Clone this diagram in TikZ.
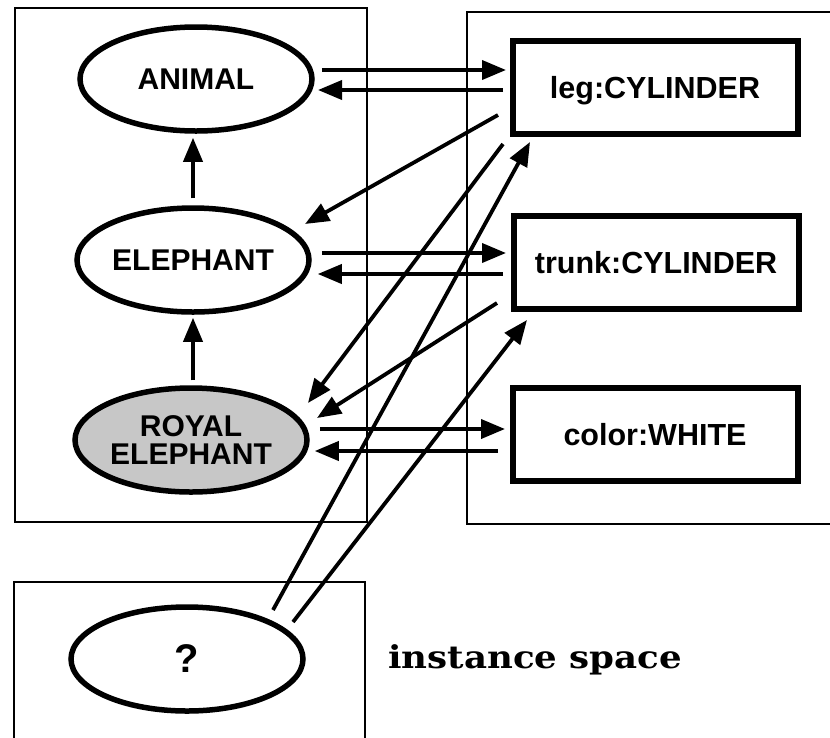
\documentclass[tikz,border=0pt]{standalone}
\usepackage{fontspec}
\usetikzlibrary{arrows.meta,shapes.geometric,calc}
\newfontfamily\labelfont{Liberation Sans}
\newfontfamily\captionfont{DejaVu Serif}

\begin{document}
\begin{tikzpicture}[x=1pt,y=-1pt,
  frame/.style={draw, line width=1.8pt},
  concept/.style={ellipse, draw, line width=5.5pt, minimum width=232pt,
    minimum height=104pt, inner sep=0pt, align=center,
    font=\labelfont\bfseries\fontsize{30}{28}\selectfont},
  slot/.style={rectangle, draw, line width=6pt, minimum width=285pt,
    minimum height=93pt, inner sep=0pt, text depth=0pt,
    font=\labelfont\bfseries\fontsize{30.5}{30}\selectfont},
  arr/.style={line width=3.8pt, -{Triangle[length=24pt,width=19pt]}},
]
\useasboundingbox (0,0) rectangle (830,737);
\clip (0,0) rectangle (830,737);
\fill[white] (0,0) rectangle (830,737);

% spaces
\draw[frame] (15,8) rectangle (367,522);
\draw[frame] (467,12) rectangle (840,524);
\draw[frame] (14,582) rectangle (365,760);

% concept hierarchy
\node[concept] (animal) at (196,79) {ANIMAL};
\node[concept] (elephant) at (193,260) {ELEPHANT};
\node[concept, fill=black!22] (royal) at (191,440) {ROYAL\\ELEPHANT};
\node[concept, font=\labelfont\bfseries\fontsize{40}{40}\selectfont] (query) at (187,659) {?};

% slots
\node[slot] (leg) at (655,87) {leg:CYLINDER};
\node[slot] (trunk) at (656,262) {trunk:CYLINDER};
\node[slot] (color) at (655,434) {color:WHITE};

\node[anchor=base west, inner sep=0pt,
  font=\captionfont\bfseries\fontsize{31.5}{31}\selectfont] (caption) at (388,668)
  {\scalebox{1.13}[1]{instance space}};

% is-a links
\draw[arr] ($(elephant.north)+(0,-7)$) -- ($(animal.south)+(-3,4)$);
\draw[arr] ($(royal.north)+(2,-5)$) -- ($(elephant.south)+(0,3)$);

% concept <-> slot links
\draw[arr] ($(animal.east)+(7,-9)$) -- ($(leg.west)+(-3.5,-17)$);
\draw[arr] ($(leg.west)+(-6.5,3)$) -- ($(animal.east)+(3.25,11)$);
\draw[arr] ($(elephant.east)+(10,-7)$) -- ($(trunk.west)+(-4.5,-9)$);
\draw[arr] ($(trunk.west)+(-7.5,12)$) -- ($(elephant.east)+(6,14)$);
\draw[arr] ($(royal.east)+(10,-11)$) -- ($(color.west)+(-4.5,-5)$);
\draw[arr] ($(color.west)+(-11.5,17)$) -- ($(royal.east)+(5,11)$);

% inherited slot links
\draw[arr] ($(leg.south west)+(-11.5,-21.5)$) -- ($(elephant.center)+(112,-36)$);
\draw[arr] ($(leg.south west)+(-6.5,7.5)$) -- ($(royal.center)+(117,-37)$);
\draw[arr] ($(trunk.south west)+(-13.5,-8.5)$) -- ($(royal.center)+(126,-22)$);

% instance links
\draw[arr] ($(query.center)+(86,-49)$) -- ($(leg.south west)+(20.5,5.5)$);
\draw[arr] ($(query.center)+(106,-37)$) -- ($(trunk.south west)+(16.5,8.5)$);
\end{tikzpicture}
\end{document}
